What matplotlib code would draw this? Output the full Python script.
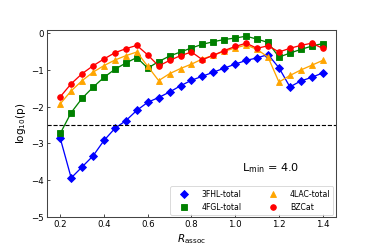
import numpy as np
import matplotlib
matplotlib.use("Agg")
import matplotlib.pyplot as plt
from matplotlib.lines import Line2D

r_assoc = [0.2, 0.25, 0.3, 0.35, 0.4, 0.45, 0.5, 0.55, 0.6, 0.65, 0.7, 0.75, 0.8,
           0.85, 0.9, 0.95, 1.0, 1.05, 1.1, 1.15, 1.2, 1.25, 1.3, 1.35, 1.4]

fhl3 = [-2.86, -3.94, -3.64, -3.34, -2.92, -2.59, -2.38, -2.10, -1.88, -1.75, -1.60,
        -1.43, -1.28, -1.17, -1.06, -0.95, -0.84, -0.74, -0.67, -0.58, -0.94, -1.46,
        -1.30, -1.20, -1.08]
fgl4 = [-2.73, -2.16, -1.77, -1.47, -1.20, -0.98, -0.81, -0.66, -0.95, -0.77, -0.62,
        -0.51, -0.40, -0.30, -0.23, -0.17, -0.13, -0.08, -0.16, -0.25, -0.65, -0.54,
        -0.44, -0.35, -0.28]
lac4 = [-1.92, -1.57, -1.29, -1.06, -0.88, -0.73, -0.61, -0.51, -0.90, -1.29, -1.10,
        -0.96, -0.84, -0.70, -0.60, -0.49, -0.40, -0.32, -0.44, -0.65, -1.33, -1.15,
        -1.00, -0.87, -0.74]
bzcat = [-1.73, -1.375, -1.10, -0.886, -0.70, -0.53, -0.42, -0.33, -0.59, -0.89, -0.74,
         -0.61, -0.51, -0.72, -0.60, -0.47, -0.36, -0.27, -0.41, -0.34, -0.51, -0.41,
         -0.33, -0.27, -0.41]

labels = ["3FHL-total", "4FGL-total", "4LAC-total", "BZCat"]
colors = ["blue", "green", "orange", "red"]
markers = ["D", "s", "^", "o"]
series = [fhl3, fgl4, lac4, bzcat]
threshold = -2.5
lmin_text = r"L$_{\rm min}$ = 4.0"

fig = plt.figure(figsize=(6, 4), dpi=62.33)
ax = fig.add_axes([0.126, 0.129, 0.772, 0.751])

handles = []
for y, c, m, lab in zip(series, colors, markers, labels):
    ax.plot(r_assoc, y, color=c, marker=m, markersize=6.5, linewidth=1.5)
    handles.append(Line2D([], [], color=c, marker=m, linestyle="none", markersize=6.5, label=lab))

ax.axhline(threshold, color="black", linestyle="--", linewidth=1.3)

ax.set_xlim(0.14, 1.46)
ax.set_ylim(-5, 0.1)
ax.set_xticks([0.2, 0.4, 0.6, 0.8, 1.0, 1.2, 1.4])
ax.set_yticks([-5, -4, -3, -2, -1, 0])
ax.tick_params(direction="in", labelsize=10, length=3)
for s in ax.spines.values():
    s.set_color("#444444")
    s.set_linewidth(1.2)

ax.set_xlabel(r"$R_{\rm assoc}$", fontsize=12)
ax.set_ylabel(r"log$_{10}$(p)", fontsize=12)

ax.text(0.872, 0.225, lmin_text, transform=ax.transAxes, fontsize=13, ha="right", va="bottom")

ax.legend(handles=handles, ncol=2, loc="lower right", fontsize=9, handlelength=2.8,
          borderaxespad=0.3, columnspacing=2.6, handletextpad=0.8)

fig.savefig("out.png", dpi=62.33)
